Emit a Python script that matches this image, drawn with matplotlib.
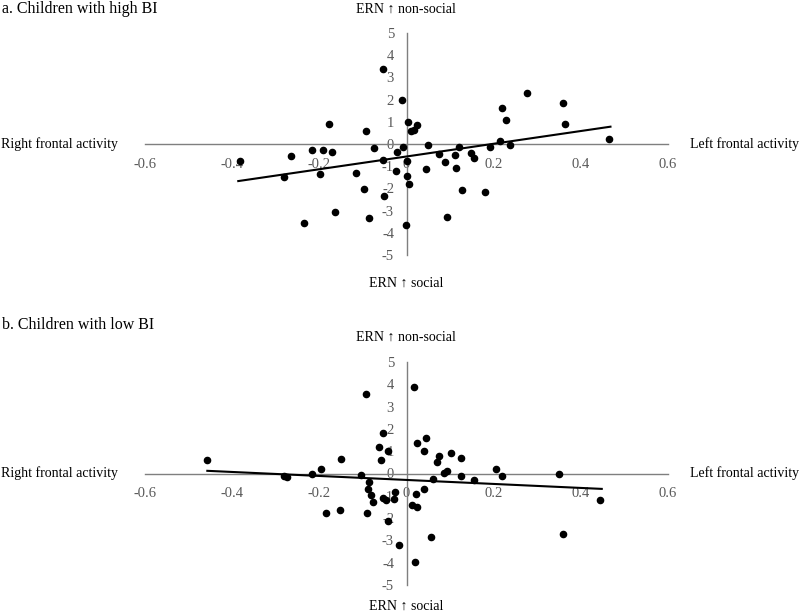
import matplotlib
matplotlib.use("Agg")
import matplotlib.pyplot as plt
import numpy as np

plt.rcParams['font.family'] = ['Liberation Serif', 'DejaVu Serif']

# ---------------- data ----------------
high_x = [-0.053, -0.011, -0.178, -0.093, 0.004, 0.010, 0.017, 0.023, -0.075, -0.007,
          0.049, -0.217, -0.192, -0.172, -0.264, -0.021, -0.055, 0.000, 0.075, 0.088,
          0.111, 0.120, 0.114, 0.149, -0.199, -0.115, -0.023, 0.044, -0.281, -0.382,
          0.000, 0.005, -0.097, -0.051, 0.127, -0.165, -0.087, 0.094, -0.235, -0.002,
          0.276, 0.218, 0.360, 0.229, 0.364, 0.465, 0.214, 0.237, 0.192, 0.154, 0.181]
high_y = [3.39, 1.97, 0.90, 0.58, 0.97, 0.58, 0.63, 0.87, -0.19, -0.12,
          -0.04, -0.27, -0.27, -0.36, -0.55, -0.37, -0.70, -0.76, -0.43, -0.79,
          -0.51, -0.15, -1.06, -0.39, -1.35, -1.30, -1.23, -1.11, -1.49, -0.75,
          -1.42, -1.81, -2.02, -2.33, -2.06, -3.06, -3.32, -3.27, -3.54, -3.63,
          2.30, 1.64, 1.85, 1.08, 0.91, 0.24, 0.12, -0.04, -0.15, -0.63, -2.17]
high_fit_x = [-0.386, 0.468]
high_fit_y = [-1.67, 0.78]

low_x = [-0.457, -0.280, -0.275, -0.216, -0.197, -0.150, -0.105, -0.094, -0.055, -0.063,
         -0.043, -0.059, -0.087, -0.088, -0.081, -0.078, -0.053, -0.047, -0.028, -0.026,
         -0.185, -0.152, -0.090, -0.043, -0.018, 0.017, 0.023, 0.044, 0.040, 0.069,
         0.075, 0.101, 0.125, 0.087, 0.092, 0.061, 0.124, 0.154, 0.040, 0.022,
         0.012, 0.025, 0.056, 0.020, 0.206, 0.220, 0.350, 0.444, 0.358]
low_y = [0.60, -0.10, -0.15, 0.00, 0.19, 0.64, -0.07, 3.58, 1.83, 1.20,
         0.99, 0.60, -0.36, -0.70, -0.96, -1.30, -1.11, -1.17, -1.15, -0.85,
         -1.77, -1.62, -1.77, -2.11, -3.20, 3.88, 1.39, 1.60, 1.03, 0.52,
         0.79, 0.91, 0.69, 0.04, 0.09, -0.25, -0.10, -0.27, -0.70, -0.93,
         -1.41, -1.50, -2.83, -3.95, 0.18, -0.10, 0.00, -1.18, -2.72]
low_fit_x = [-0.457, 0.448]
low_fit_y = [0.12, -0.69]

x_ticks = [-0.6, -0.4, -0.2, 0, 0.2, 0.4, 0.6]
x_tick_labels = ["-0.6", "-0.4", "-0.2", "0", "0.2", "0.4", "0.6"]
y_ticks = [-5, -4, -3, -2, -1, 0, 1, 2, 3, 4, 5]
y_tick_labels = ["-5", "-4", "-3", "-2", "-1", "0", "1", "2", "3", "4", "5"]

panel_titles = ["a. Children with high BI", "b. Children with low BI"]
top_label = "ERN \u2191 non-social"
bottom_label = "ERN \u2191 social"
left_label = "Right frontal activity"
right_label = "Left frontal activity"

# ---------------- figure ----------------
W, H = 800, 614
fig = plt.figure(figsize=(W / 100, H / 100), dpi=100)

def fx(px):
    return px / W

def fy(py):
    return 1 - py / H

tick_color = '#595959'
axis_color = '#7f7f7f'
fs_tick = 10.5
fs_lab = 10
fs_title = 11.5

panels = [
    dict(xs=high_x, ys=high_y, fx_=high_fit_x, fy_=high_fit_y, top=33, bottom=255,
         title_y=9, toplab_y=9, botlab_y=283, title=panel_titles[0]),
    dict(xs=low_x, ys=low_y, fx_=low_fit_x, fy_=low_fit_y, top=362, bottom=585,
         title_y=325, toplab_y=337, botlab_y=606, title=panel_titles[1]),
]

left_px, right_px = 145, 668
for p in panels:
    ax = fig.add_axes([fx(left_px), fy(p['bottom']), (right_px - left_px) / W,
                       (p['bottom'] - p['top']) / H])
    ax.set_xlim(-0.6, 0.6)
    ax.set_ylim(-5, 5)
    ax.patch.set_alpha(0)
    for s in ['top', 'right']:
        ax.spines[s].set_visible(False)
    ax.spines['left'].set_position(('data', 0))
    ax.spines['bottom'].set_position(('data', 0))
    for s in ['left', 'bottom']:
        ax.spines[s].set_color(axis_color)
        ax.spines[s].set_linewidth(1.0)
    ax.set_xticks(x_ticks)
    ax.set_xticklabels(x_tick_labels)
    ax.set_yticks(y_ticks)
    ax.set_yticklabels(y_tick_labels)
    ax.tick_params(axis='both', length=0, labelsize=fs_tick, labelcolor=tick_color)
    ax.tick_params(axis='x', pad=10)
    ax.tick_params(axis='y', pad=9)
    ax.scatter(p['xs'], p['ys'], s=20, color='black', zorder=3, clip_on=False)
    ax.plot(p['fx_'], p['fy_'], color='black', lw=1.5, zorder=4, clip_on=False)

    axis_y = (p['top'] + p['bottom']) / 2
    fig.text(fx(2), fy(p['title_y']), p['title'], ha='left', va='center', fontsize=fs_title)
    fig.text(fx(406), fy(p['toplab_y']), top_label, ha='center', va='center', fontsize=fs_lab)
    fig.text(fx(406), fy(p['botlab_y']), bottom_label, ha='center', va='center', fontsize=fs_lab)
    fig.text(fx(118), fy(axis_y), left_label, ha='right', va='center', fontsize=fs_lab)
    fig.text(fx(690), fy(axis_y), right_label, ha='left', va='center', fontsize=fs_lab)

fig.savefig("out.png", dpi=100)
